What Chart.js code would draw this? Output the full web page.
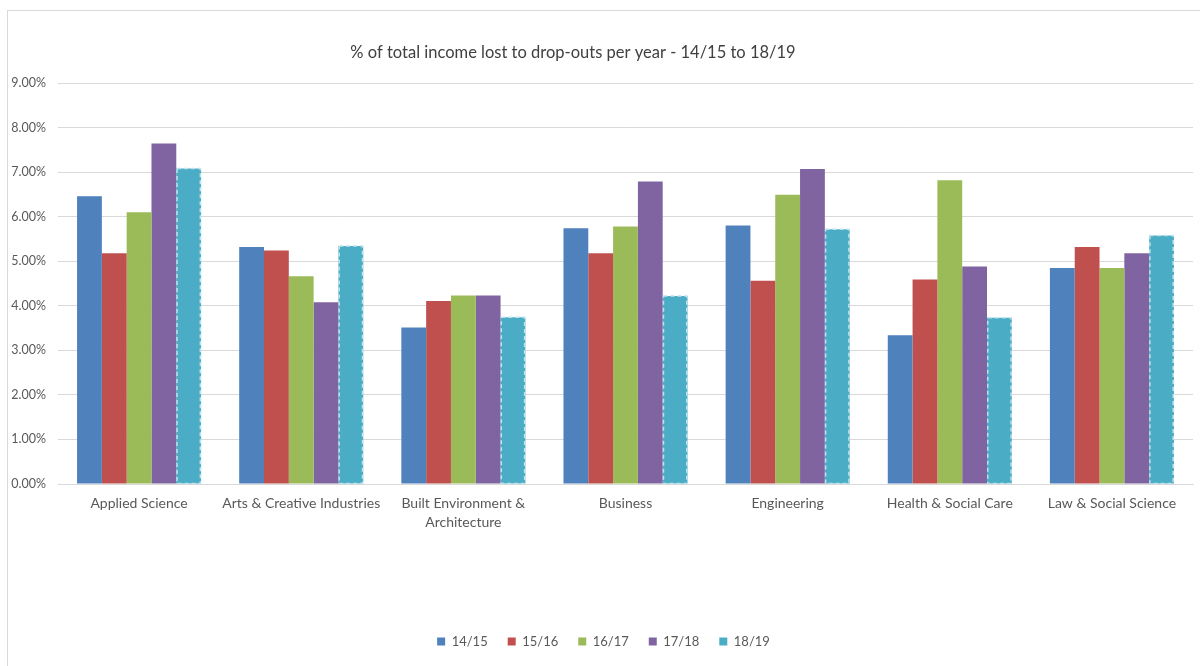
<!DOCTYPE html>
<html>
<head>
<meta charset="utf-8">
<script src="https://cdn.jsdelivr.net/npm/chart.js@4.4.1/dist/chart.umd.min.js"></script>
<style>
  html, body { margin: 0; padding: 0; background: #fff; overflow: hidden; }
  #frame { position: absolute; left: 7px; top: 10px; width: 1300px; height: 800px; border: 1px solid #d9d9d9; }
  #wrap { position: absolute; left: 0; top: 0; width: 1200px; height: 666px; }
</style>
</head>
<body>
<div id="frame"></div>
<div id="wrap"><canvas id="c" width="1200" height="666"></canvas></div>
<script>
const categories = [
  "Applied Science",
  "Arts & Creative Industries",
  ["Built Environment &", "Architecture"],
  "Business",
  "Engineering",
  "Health & Social Care",
  "Law & Social Science"
];
const seriesNames = ["14/15", "15/16", "16/17", "17/18", "18/19"];
const y1415 = [6.46, 5.32, 3.51, 5.74, 5.80, 3.34, 4.85];
const y1516 = [5.18, 5.24, 4.11, 5.18, 4.56, 4.59, 5.32];
const y1617 = [6.10, 4.66, 4.23, 5.78, 6.49, 6.82, 4.85];
const y1718 = [7.64, 4.08, 4.23, 6.79, 7.07, 4.88, 5.18];
const y1819 = [7.08, 5.34, 3.74, 4.22, 5.72, 3.73, 5.58];
const yTicks = [0, 1, 2, 3, 4, 5, 6, 7, 8, 9];
const chartTitle = "% of total income lost to drop-outs per year - 14/15 to 18/19";

const colors = ["#4f81bd", "#c0504d", "#9bbb59", "#8064a2", "#4bacc6"];
const allSeries = [y1415, y1516, y1617, y1718, y1819];

const FONT = "Lato, 'Open Sans', sans-serif";

const titlePlugin = {
  id: 'offsetTitle',
  afterDraw(chart) {
    const ctx = chart.ctx;
    ctx.save();
    ctx.font = "16.5px " + FONT;
    ctx.fillStyle = "#404040";
    ctx.textAlign = "center";
    ctx.textBaseline = "middle";
    ctx.fillText(chartTitle, 573, 53);
    ctx.restore();
  }
};

const dashPlugin = {
  id: 'dashOutline',
  afterDatasetsDraw(chart) {
    const ctx = chart.ctx;
    const meta = chart.getDatasetMeta(4);
    ctx.save();
    ctx.setLineDash([4, 3]);
    ctx.lineWidth = 1.5;
    ctx.strokeStyle = "#bfe3ec";
    meta.data.forEach(el => {
      const p = el.getProps(['x', 'y', 'base', 'width'], true);
      ctx.strokeRect(p.x - p.width / 2 + 0.75, p.y, p.width - 1.5, p.base - p.y);
    });
    ctx.restore();
  }
};

const legendShift = {
  id: 'legendShift',
  afterLayout(chart) {
    if (chart.legend) { chart.legend.left += 7; chart.legend.right += 7; }
  }
};

new Chart(document.getElementById('c'), {
  type: 'bar',
  data: {
    labels: categories,
    datasets: seriesNames.map((n, i) => ({
      label: n,
      data: allSeries[i],
      backgroundColor: colors[i],
      borderWidth: 0,
      barPercentage: 1.0,
      categoryPercentage: 0.765
    }))
  },
  options: {
    responsive: false,
    animation: false,
    layout: { padding: { left: 0, right: 7, top: 83, bottom: 8 } },
    plugins: {
      title: { display: false },
      tooltip: { enabled: false },
      legend: {
        position: 'bottom',
        labels: {
          boxWidth: 8,
          boxHeight: 8,
          padding: 20,
          color: "#595959",
          font: { family: FONT, size: 13 }
        }
      }
    },
    scales: {
      x: {
        grid: { display: false, drawTicks: false },
        border: { display: true, color: "#d9d9d9", width: 1 },
        ticks: {
          color: "#595959",
          font: { family: FONT, size: 14, lineHeight: 1.35 },
          padding: 10,
          maxRotation: 0,
          autoSkip: false
        },
        afterFit(scale) { scale.height = 131; }
      },
      y: {
        min: 0,
        max: 9,
        afterBuildTicks(scale) { scale.ticks = yTicks.map(v => ({ value: v })); },
        grid: { color: "#d9d9d9", lineWidth: 1, drawTicks: false },
        border: { display: false },
        ticks: {
          color: "#595959",
          font: { family: FONT, size: 12.5 },
          padding: 12,
          callback: v => Number(v).toFixed(2) + "%"
        },
        afterFit(scale) { scale.width = 58; }
      }
    }
  },
  plugins: [titlePlugin, dashPlugin, legendShift]
});
</script>
</body>
</html>
